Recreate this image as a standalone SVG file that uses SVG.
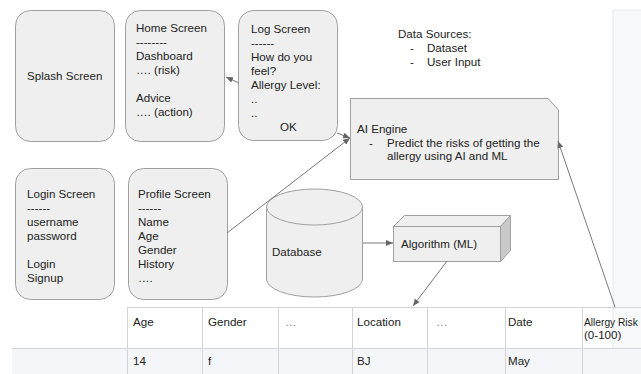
<svg xmlns="http://www.w3.org/2000/svg" width="641" height="374" viewBox="0 0 641 374">
<defs>
<style>
text{font-family:"Liberation Sans",Arial,sans-serif;font-size:11.6px;fill:#222}
.box{fill:#efefef;stroke:#a0a0a0;stroke-width:1}
.tl{stroke:#d4d4d4;stroke-width:1;fill:none}
.con{stroke:#7a7a7a;stroke-width:1;fill:none;marker-end:url(#ah)}
.dots{fill:#888}
</style>
<marker id="ah" markerUnits="userSpaceOnUse" markerWidth="8" markerHeight="6" refX="7" refY="3" orient="auto">
<path d="M0,0 L7,3 L0,6 z" fill="#666"/>
</marker>
</defs>
<rect width="641" height="374" fill="#ffffff"/>
<rect x="613" y="10" width="30" height="340" fill="#f8f9fb" stroke="#e6e8ec"/>
<rect x="12" y="348" width="630" height="27" fill="#f5f6f9"/>

<g id="table">
<line class="tl" x1="127" y1="307.5" x2="641" y2="307.5"/>
<line class="tl" x1="12" y1="348.5" x2="641" y2="348.5"/>
<line class="tl" x1="127.5" y1="307" x2="127.5" y2="374"/>
<line class="tl" x1="202.5" y1="307" x2="202.5" y2="374"/>
<line class="tl" x1="278.5" y1="307" x2="278.5" y2="374"/>
<line class="tl" x1="352.5" y1="307" x2="352.5" y2="374"/>
<line class="tl" x1="427.5" y1="307" x2="427.5" y2="374"/>
<line class="tl" x1="505.5" y1="307" x2="505.5" y2="374"/>
<line class="tl" x1="582.5" y1="307" x2="582.5" y2="374"/>
<text x="133" y="326">Age</text>
<text x="208" y="326">Gender</text>
<text x="285" y="326" class="dots">…</text>
<text x="357" y="326">Location</text>
<text x="436" y="326" class="dots">…</text>
<text x="508" y="326">Date</text>
<text x="584" y="326" style="font-size:10.2px">Allergy Risk</text>
<text x="584" y="339">(0-100)</text>
<text x="133" y="365">14</text>
<text x="208" y="365">f</text>
<text x="357" y="365">BJ</text>
<text x="508" y="365">May</text>
</g>

<g id="splash">
<rect class="box" x="15.5" y="10.5" width="99" height="131" rx="15"/>
<text x="27" y="80">Splash Screen</text>
</g>

<g id="home">
<rect class="box" x="125.5" y="10.5" width="99" height="131" rx="15"/>
<text x="136" y="32">Home Screen</text>
<text x="136" y="46">--------</text>
<text x="136" y="60">Dashboard</text>
<text x="136" y="74">…. (risk)</text>
<text x="136" y="102">Advice</text>
<text x="136" y="116">…. (action)</text>
</g>

<g id="log">
<rect class="box" x="238.5" y="10.5" width="99" height="130" rx="15"/>
<text x="251" y="33">Log Screen</text>
<text x="251" y="47">------</text>
<text x="251" y="61">How do you</text>
<text x="251" y="75">feel?</text>
<text x="251" y="89">Allergy Level:</text>
<text x="251" y="103">..</text>
<text x="251" y="117">..</text>
<text x="280" y="131">OK</text>
</g>

<g id="login">
<rect class="box" x="15.5" y="168.5" width="99" height="131" rx="15"/>
<text x="27" y="198">Login Screen</text>
<text x="27" y="212">------</text>
<text x="27" y="226">username</text>
<text x="27" y="240">password</text>
<text x="27" y="268">Login</text>
<text x="27" y="282">Signup</text>
</g>

<g id="profile">
<rect class="box" x="128.5" y="168.5" width="99" height="131" rx="15"/>
<text x="138" y="198">Profile Screen</text>
<text x="138" y="212">------</text>
<text x="138" y="226">Name</text>
<text x="138" y="240">Age</text>
<text x="138" y="254">Gender</text>
<text x="138" y="268">History</text>
<text x="138" y="282">….</text>
</g>

<g id="datasources">
<text x="398" y="38">Data Sources:</text>
<text x="410" y="52">-</text>
<text x="427" y="52">Dataset</text>
<text x="410" y="66">-</text>
<text x="427" y="66">User Input</text>
</g>

<g id="ai-engine">
<path class="box" d="M350.5,98.5 H548 L558.5,110 V179.5 H350.5 Z"/>
<text x="357" y="133">AI Engine</text>
<text x="369" y="147">-</text>
<text x="387" y="147">Predict the risks of getting the</text>
<text x="387" y="160">allergy using AI and ML</text>
</g>

<g id="database">
<path class="box" d="M266.5,207 V279 A48,18 0 0 0 362.5,279 V207"/>
<ellipse class="box" cx="314.5" cy="207" rx="48" ry="18"/>
<text x="272" y="256">Database</text>
</g>

<g id="algorithm">
<path d="M393.5,226.5 L404.5,215.5 H510.5 L500.5,226.5 Z" fill="#efefef" stroke="#a0a0a0"/>
<path d="M500.5,226.5 L510.5,215.5 V250.5 L500.5,261.5 Z" fill="#c9c9c9" stroke="#a0a0a0"/>
<rect class="box" x="393.5" y="226.5" width="107" height="35"/>
<text x="401" y="248">Algorithm (ML)</text>
</g>

<g id="connectors">
<line class="con" x1="239" y1="83" x2="226" y2="77"/>
<line class="con" x1="337" y1="133" x2="350" y2="138"/>
<line class="con" x1="227" y1="233" x2="350" y2="138"/>
<line class="con" x1="615" y1="307" x2="558" y2="141"/>
<line class="con" x1="363" y1="243" x2="393" y2="243"/>
<line class="con" x1="447" y1="261" x2="413" y2="306"/>
</g>
</svg>
